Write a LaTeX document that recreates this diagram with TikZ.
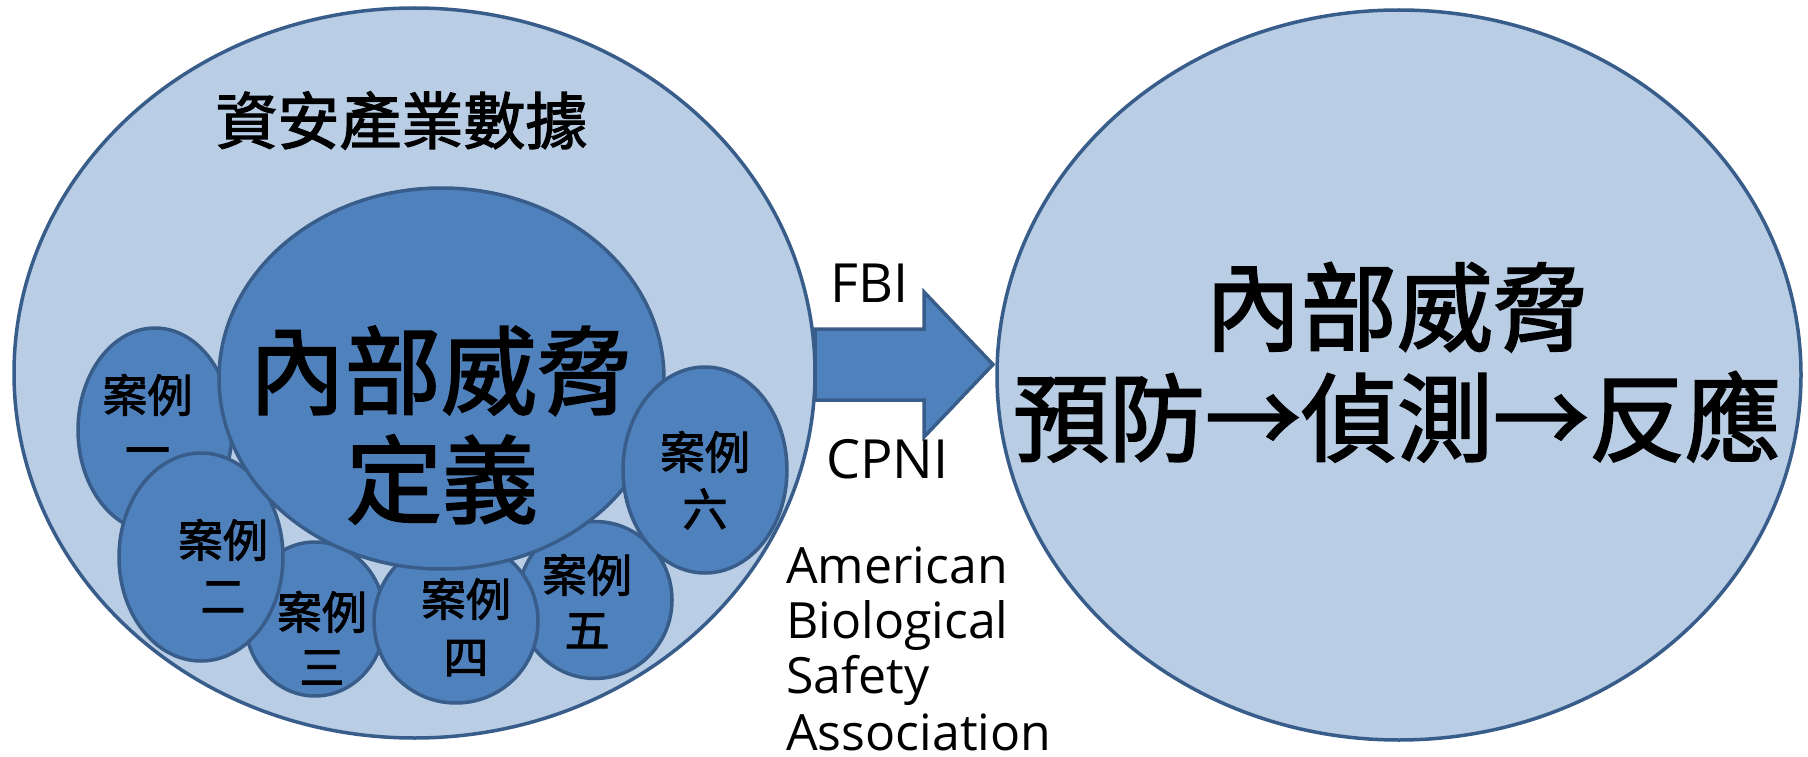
\documentclass[tikz,border=0pt]{standalone}
\usepackage{fontspec}
\setmainfont{Open Sans}
\newfontfamily\cjk[FakeBold=2]{Noto Sans CJK TC}
\usetikzlibrary{shapes.geometric}
\definecolor{lightfill}{HTML}{B9CDE5}
\definecolor{darkfill}{HTML}{4F81BD}
\definecolor{edgeblue}{HTML}{385D8A}
\begin{document}
\begin{tikzpicture}[x=1pt,y=-1pt,
  blob/.style={ellipse, draw=edgeblue, line width=3.5pt, inner sep=0pt, outer sep=0pt},
  lightblob/.style={blob, fill=lightfill},
  darkblob/.style={blob, fill=darkfill},
  casetext/.style={anchor=base, inner sep=0pt, font=\cjk\fontsize{45}{56}\selectfont},
  bigtext/.style={anchor=base, inner sep=0pt, font=\cjk\fontsize{96}{108}\selectfont},
  titletext/.style={anchor=base, inner sep=0pt, font=\cjk\fontsize{62}{70}\selectfont},
  srctext/.style={anchor=base west, inner sep=0pt, font=\fontsize{54}{60}\selectfont},
  orgtext/.style={anchor=base west, inner sep=0pt, font=\fontsize{50}{56}\selectfont},
  bigarrow/.style={draw=edgeblue, fill=darkfill, line width=3.5pt, line join=miter}
]
\useasboundingbox (0,0) rectangle (1808,757);

% outer ellipses
\node[lightblob, minimum width=801pt, minimum height=730pt] (L) at (414.5,373) {};
\node[lightblob, minimum width=804pt, minimum height=730pt] (R) at (1399,375) {};

% cases and definition
\node[darkblob, minimum width=154pt, minimum height=204pt] (c1) at (155,430) {};
\node[darkblob, minimum width=140pt, minimum height=154pt] (c3) at (315,619) {};
\node[darkblob, minimum width=154pt, minimum height=157pt] (c5) at (595,600) {};
\node[darkblob, minimum width=164pt, minimum height=163pt] (c4) at (456,621.5) {};
\node[darkblob, minimum width=164pt, minimum height=208pt] (c2) at (201,557) {};
\node[darkblob, minimum width=445pt, minimum height=381pt] (M) at (441.5,378.5) {};
\node[darkblob, minimum width=164pt, minimum height=206pt] (c6) at (705,470) {};

% block arrow from L to R
\coordinate (a1) at (815,329);
\coordinate (a2) at (924,329);
\coordinate (a3) at (924,292);
\coordinate (tip) at (993,364.5);
\coordinate (a5) at (924,437);
\coordinate (a6) at (924,400);
\coordinate (a7) at (815,400);
\draw[bigarrow] (a1) -- (a2) -- (a3) -- (tip) -- (a5) -- (a6) -- (a7) -- cycle;

% texts
\node[titletext] (title) at (401.5,144) {資安產業數據};

\node[bigtext] (m1) at (441,407) {內部威脅};
\node[bigtext] (m2) at (442,516) {定義};

\node[bigtext] (r1) at (1397,343.5) {內部威脅};
\node[bigtext] (r2) at (1397,454) {預防→偵測→反應};

\node[casetext] (t1a) at (147.5,412) {案例};
\node[casetext] (t1b) at (147.5,467) {一};
\node[casetext] (t2a) at (223,557) {案例};
\node[casetext] (t2b) at (223,613) {二};
\node[casetext] (t3a) at (322,629) {案例};
\node[casetext] (t3b) at (322,684) {三};
\node[casetext] (t4a) at (466,616) {案例};
\node[casetext] (t4b) at (466,674) {四};
\node[casetext] (t5a) at (587,592) {案例};
\node[casetext] (t5b) at (587,647) {五};
\node[casetext] (t6a) at (705,469) {案例};
\node[casetext] (t6b) at (705,526) {六};

\node[srctext] (fbi) at (830,302) {FBI};
\node[srctext] (cpni) at (826,478) {CPNI};

\node[orgtext] (o1) at (786,583) {American};
\node[orgtext] (o2) at (786,638) {Biological};
\node[orgtext] (o3) at (786,693) {Safety};
\node[orgtext] (o4) at (786,750) {Association};
\end{tikzpicture}
\end{document}
